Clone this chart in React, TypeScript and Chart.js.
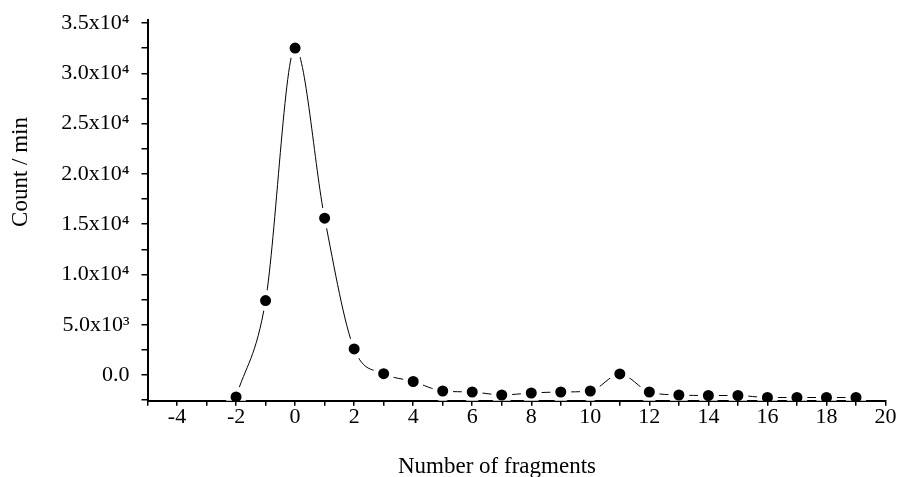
import React, { useEffect, useRef } from "react";
import { Chart, registerables } from "chart.js";

Chart.register(...registerables);

const fragments = [-2, -1, 0, 1, 2, 3, 4, 5, 6, 7, 8, 9, 10, 11, 12, 13, 14, 15, 16, 17, 18, 19];
const counts = [
  -2180, 7400, 32510, 15600, 2600, 140, -640, -1585, -1684, -1983, -1784,
  -1684, -1585, 107, -1684, -1983, -2033, -2033, -2232, -2232, -2232, -2232,
];
const xMin = -5;
const xMax = 20;
const yMin = -2550;
const yMax = 35350;
const yTickValues = [
  -2500, 0, 2500, 5000, 7500, 10000, 12500, 15000, 17500, 20000, 22500, 25000,
  27500, 30000, 32500, 35000,
];
const yLabelMap: Record<string, string> = {
  "0": "0.0",
  "5000": "5.0x10³",
  "10000": "1.0x10⁴",
  "15000": "1.5x10⁴",
  "20000": "2.0x10⁴",
  "25000": "2.5x10⁴",
  "30000": "3.0x10⁴",
  "35000": "3.5x10⁴",
};
const xTitle = "Number of fragments";
const yTitle = "Count / min";

const FONT = '"Liberation Serif", "Times New Roman", serif';

const titlePlugin = {
  id: "customTitles",
  afterDraw(chart: any) {
    const ctx = chart.ctx;
    ctx.save();
    ctx.fillStyle = "#000";
    ctx.font = `23px ${FONT}`;
    ctx.textAlign = "center";
    ctx.textBaseline = "alphabetic";
    ctx.fillText(xTitle, 497, 473);
    ctx.translate(27, 172);
    ctx.rotate(-Math.PI / 2);
    ctx.fillText(yTitle, 0, 0);
    ctx.restore();
  },
};

export default function App() {
  const ref = useRef<HTMLCanvasElement | null>(null);
  useEffect(() => {
    if (!ref.current) return;
    const chart = new Chart(ref.current, {
      type: "line",
      data: {
        datasets: [
          {
            data: fragments.map((f, i) => ({ x: f, y: counts[i] })),
            borderColor: "#000",
            borderWidth: 1,
            pointRadius: 8,
            pointHoverRadius: 8,
            pointBackgroundColor: "#000",
            pointBorderColor: "#fff",
            pointBorderWidth: 5,
            cubicInterpolationMode: "monotone",
            clip: { left: 20, top: 20, right: 20, bottom: 0 } as any,
          },
        ],
      },
      options: {
        animation: false,
        responsive: true,
        maintainAspectRatio: false,
        layout: { padding: { top: 19.5, right: 15.5, left: 0, bottom: 0 } },
        plugins: { legend: { display: false }, tooltip: { enabled: false } },
        scales: {
          x: {
            type: "linear",
            min: xMin,
            max: xMax,
            z: 1,
            border: { display: true, color: "#000", width: 2 },
            grid: { drawOnChartArea: false, drawTicks: true, tickLength: 5, color: "#000", lineWidth: 1.5 },
            ticks: {
              stepSize: 1,
              autoSkip: false,
              maxRotation: 0,
              padding: -2,
              color: "#000",
              font: { family: FONT, size: 22 },
              callback: (v: any) => (Number(v) % 2 === 0 ? String(v) : ""),
            },
            afterFit: (scale: any) => {
              scale.height = 76.3;
              scale.paddingLeft = 0;
              scale.paddingRight = 0;
            },
          },
          y: {
            type: "linear",
            min: yMin,
            max: yMax,
            z: 1,
            border: { display: true, color: "#000", width: 2 },
            grid: { drawOnChartArea: false, drawTicks: true, tickLength: 6, color: "#000", lineWidth: 1.5 },
            ticks: {
              autoSkip: false,
              padding: 12,
              color: "#000",
              font: { family: FONT, size: 22 },
              callback: (v: any) => yLabelMap[String(v)] ?? "",
            },
            afterBuildTicks: (scale: any) => {
              scale.ticks = yTickValues.map((v) => ({ value: v }));
            },
            afterFit: (scale: any) => {
              scale.width = 147.5;
              scale.paddingTop = 0;
              scale.paddingBottom = 0;
            },
          },
        },
      },
      plugins: [titlePlugin],
    });
    return () => chart.destroy();
  }, []);
  return (
    <div style={{ position: "absolute", left: 0, top: 0, width: 901, height: 477, background: "#fff" }}>
      <canvas ref={ref} />
    </div>
  );
}
